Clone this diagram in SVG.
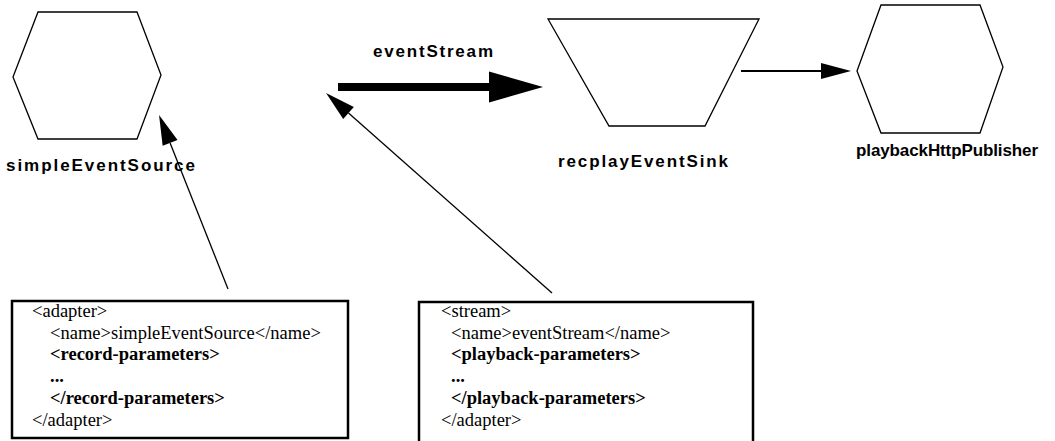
<svg xmlns="http://www.w3.org/2000/svg" width="1055" height="441" viewBox="0 0 1055 441">
<style>
.shape{fill:#fff;stroke:#000;stroke-width:1.3;stroke-linejoin:miter}
.lbl{font-family:"Liberation Sans",Arial,sans-serif;font-weight:bold;font-size:17px;fill:#000}
.box{fill:#fff;stroke:#000;stroke-width:2.5}
.code{font-family:"Liberation Serif","Times New Roman",serif;font-size:18.5px;fill:#000}
.b{font-weight:bold}
.conn{stroke:#000;fill:none}
</style>
<defs>
<marker id="head" markerUnits="userSpaceOnUse" markerWidth="30" markerHeight="16" refX="0" refY="8" orient="auto" overflow="visible">
<path d="M0,0 L30,8 L0,16 z" fill="#000"/>
</marker>
<marker id="bighead" markerUnits="userSpaceOnUse" markerWidth="54" markerHeight="31" refX="0" refY="15.5" orient="auto" overflow="visible">
<path d="M0,0 L54,15.5 L0,31 z" fill="#000"/>
</marker>
</defs>
<rect width="1055" height="441" fill="#fff"/>

<g id="simpleEventSource">
<polygon class="shape" points="38,12 137,12 161,75 137,139 38,139 13,77"/>
<text class="lbl" x="6" y="171" textLength="189" lengthAdjust="spacing">simpleEventSource</text>
</g>

<g id="recplayEventSink">
<polygon class="shape" points="548,19 759,19 705,126 609,126"/>
<text class="lbl" x="558" y="167" textLength="170" lengthAdjust="spacing">recplayEventSink</text>
</g>

<g id="playbackHttpPublisher">
<polygon class="shape" points="881,5 980,5 1003,67 980,133 881,133 857,71"/>
<text class="lbl" x="856" y="156" textLength="182" lengthAdjust="spacing">playbackHttpPublisher</text>
</g>

<g id="adapterConfig">
<rect class="box" x="12" y="301" width="336" height="137"/>
<text class="code" x="32" y="317">&lt;adapter&gt;</text>
<text class="code" x="50" y="339">&lt;name&gt;simpleEventSource&lt;/name&gt;</text>
<text class="code b" x="50" y="360">&lt;record-parameters&gt;</text>
<text class="code b" x="50" y="382">...</text>
<text class="code b" x="50" y="404">&lt;/record-parameters&gt;</text>
<text class="code" x="32" y="426">&lt;/adapter&gt;</text>
</g>

<g id="streamConfig">
<path class="box" d="M419,445 L419,302 L753,302 L753,445"/>
<text class="code" x="441" y="317">&lt;stream&gt;</text>
<text class="code" x="451" y="339">&lt;name&gt;eventStream&lt;/name&gt;</text>
<text class="code b" x="451" y="360">&lt;playback-parameters&gt;</text>
<text class="code b" x="451" y="382">...</text>
<text class="code b" x="451" y="404">&lt;/playback-parameters&gt;</text>
<text class="code" x="441" y="426">&lt;/adapter&gt;</text>
</g>

<g id="connectors">
<line class="conn" x1="338" y1="87" x2="489" y2="87" stroke-width="8" marker-end="url(#bighead)"/>
<text class="lbl" x="373" y="57" textLength="120" lengthAdjust="spacing">eventStream</text>
<line class="conn" x1="741" y1="71" x2="821" y2="71" stroke-width="2" marker-end="url(#head)"/>
<line class="conn" x1="228" y1="289" x2="170.1" y2="142.9" stroke-width="1.3" marker-end="url(#head)"/>
<line class="conn" x1="552" y1="293" x2="348.5" y2="112.9" stroke-width="1.3" marker-end="url(#head)"/>
</g>
</svg>
